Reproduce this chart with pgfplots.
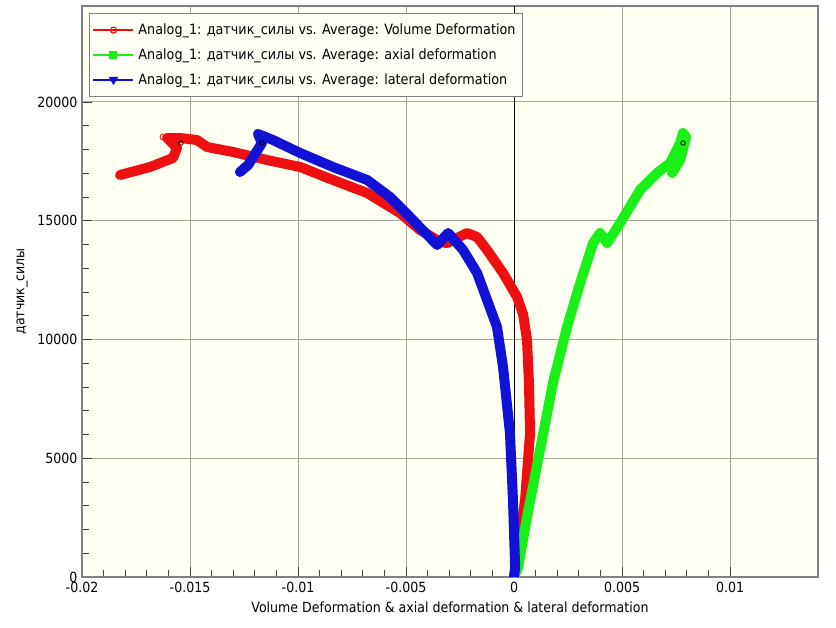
\documentclass[border=0pt]{standalone}
\usepackage{fontspec}
\setmainfont{DejaVu Sans Condensed}
\usepackage{pgfplots}
\pgfplotsset{compat=1.18}
\definecolor{bgyel}{RGB}{255,255,242}
\definecolor{cred}{RGB}{238,16,16}
\definecolor{cgreen}{RGB}{24,240,24}
\definecolor{cblue}{RGB}{18,18,214}
\definecolor{framegray}{RGB}{128,128,128}
\definecolor{gridgray}{RGB}{165,165,155}
\begin{document}
\begin{tikzpicture}
\useasboundingbox[fill=white] (0,0) rectangle (836pt,628pt);
\begin{axis}[
  at={(82pt,51pt)}, anchor=south west,
  scale only axis, width=736pt, height=571pt,
  xmin=-0.02, xmax=0.01407, ymin=0, ymax=24040,
  scaled x ticks=false, scaled y ticks=false,
  axis background/.style={fill=bgyel},
  axis line style={draw=framegray, line width=1.2pt},
  font=\fontsize{14}{16}\selectfont,
  xtick={-0.02,-0.015,-0.01,-0.005,0,0.005,0.01},
  xticklabels={-0.02,-0.015,-0.01,-0.005,0,0.005,0.01},
  ytick={0,5000,10000,15000,20000},
  yticklabels={0,5000,10000,15000,20000},
  minor x tick num=4, minor y tick num=4,
  xtick pos=lower, ytick pos=left,
  tick align=inside,
  major tick length=10pt, minor tick length=7pt,
  every tick/.style={black!75, line width=0.8pt},
  grid=major,
  major grid style={gridgray, line width=0.9pt},
  xlabel={Volume Deformation \& axial deformation \& lateral deformation},
  ylabel={датчик\_силы},
  every axis x label/.style={at={(axis description cs:0.5,-0.0525)}, anchor=center},
  every axis y label/.style={at={(axis description cs:-0.0815,0.5)}, rotate=90, anchor=center},
  xticklabel style={yshift=-2pt},
  yticklabel style={xshift=-1pt},
  legend style={at={(rel axis cs:0.0095,0.9877)}, anchor=north west,
     fill=bgyel!50!white, draw=framegray, line width=1pt, inner xsep=3pt, inner ysep=8.5pt,
     row sep=8.5pt, font=\fontsize{14.2}{16}\selectfont, cells={anchor=west},
     nodes={inner xsep=4pt}},
  legend image code/.code={\draw[#1] plot coordinates {(0pt,0pt) (20pt,0pt) (40pt,0pt)};},
  clip=true,
]
\addlegendimage{cred, line width=2pt, mark=o, mark size=3pt, mark repeat=2, mark phase=2, mark options={fill=white, line width=1.2pt}}
\addlegendentry{Analog\_1: датчик\_силы vs. Average: Volume Deformation}
\addlegendimage{cgreen, line width=2pt, mark=square*, mark size=3pt, mark repeat=2, mark phase=2}
\addlegendentry{Analog\_1: датчик\_силы vs. Average: axial deformation}
\addlegendimage{cblue, line width=2pt, mark=triangle*, mark size=3.5pt, mark repeat=2, mark phase=2, mark options={rotate=180}}
\addlegendentry{Analog\_1: датчик\_силы vs. Average: lateral deformation}

\draw[black, line width=0.9pt] (axis cs:0,0) -- (axis cs:0,24040);

% Volume deformation
\addplot[cred, line width=10pt, line cap=round, line join=round, forget plot] coordinates {
(0,0) (0.000125,716) (0.00051,3242) (0.00074,6062) (0.00069,8167) (0.0006,9978)
(0.00042,11050) (0.00014,11788) (-0.00051,12798) (-0.00125,13767) (-0.00171,14314)
(-0.00218,14482) (-0.0031,14061) (-0.0034,14100) (-0.00435,14609) (-0.00528,15324)
(-0.0068,16166) (-0.00838,16714) (-0.0099,17261) (-0.01144,17556) (-0.0130,17892)
(-0.01421,18103) (-0.01468,18398) (-0.01546,18482) (-0.01606,18482) (-0.0156,18061)
(-0.01579,17640) (-0.01685,17261) (-0.01824,16924)};
% axial deformation
\addplot[cgreen, line width=10pt, line cap=round, line join=round, forget plot] coordinates {
(0,0) (0.00019,421) (0.0006,2526) (0.0012,5347) (0.0018,8167) (0.00245,10525)
(0.00306,12377) (0.00366,14061) (0.00398,14482) (0.00431,14061) (0.00491,14903)
(0.00583,16293) (0.00662,17008) (0.00722,17429) (0.00769,18271) (0.00782,18692)
(0.00796,18524) (0.00769,17556) (0.00731,17008)};
% lateral deformation
\addplot[cblue, line width=10pt, line cap=round, line join=round, forget plot] coordinates {
(0,0) (0.00005,421) (-0.00005,3242) (-0.00019,6062) (-0.00051,8841) (-0.00079,10525)
(-0.00125,11662) (-0.00171,12798) (-0.00236,13767) (-0.00305,14482) (-0.00356,13977)
(-0.00482,15156) (-0.00574,15998) (-0.0068,16714) (-0.00838,17261) (-0.0099,17850)
(-0.01116,18398) (-0.01185,18650) (-0.01167,18271) (-0.01231,17345) (-0.01269,17050)};
% current position markers
\addplot[only marks, mark=o, black, mark size=2.3pt, line width=0.8pt, forget plot] coordinates {
(-0.01542,18271) (-0.01167,18271) (0.00782,18271)};
\addplot[only marks, mark=o, cred, mark size=3pt, line width=0.8pt, mark options={fill=bgyel}, forget plot] coordinates {
(-0.01625,18524)};
\end{axis}
\end{tikzpicture}
\end{document}
